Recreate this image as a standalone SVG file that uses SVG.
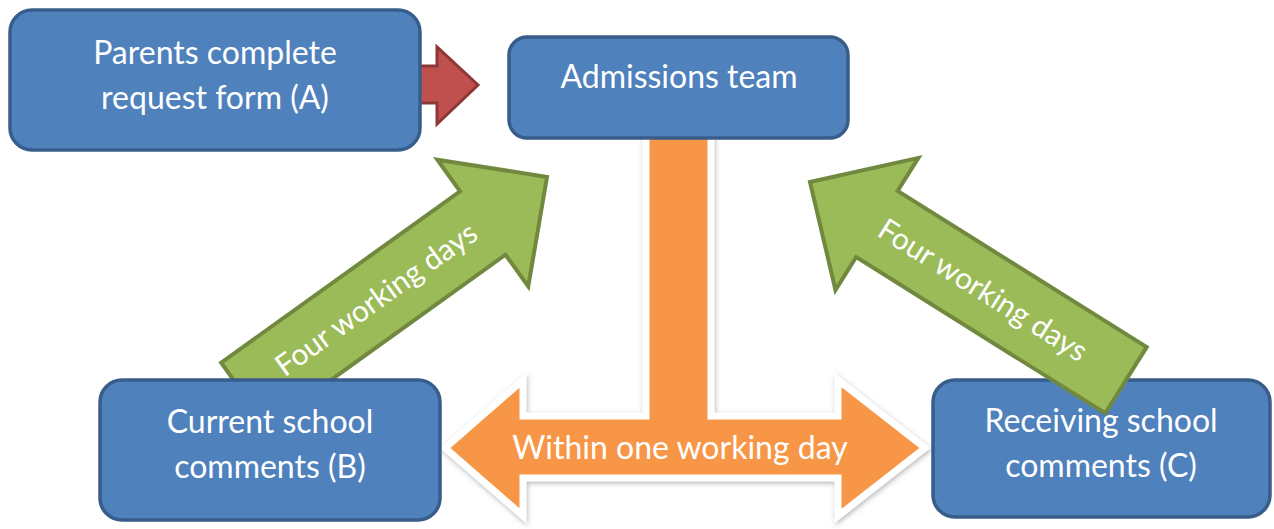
<svg xmlns="http://www.w3.org/2000/svg" width="1274" height="529" viewBox="0 0 1274 529">
<defs>
<filter id="glow" x="-10%" y="-10%" width="120%" height="120%">
<feDropShadow dx="1" dy="2" stdDeviation="2.5" flood-color="#7f7f7f" flood-opacity="0.55"/>
</filter>
</defs>
<style>
.box{fill:#4F81BD;stroke:#385D8A;stroke-width:3.5}
.txt{font-family:Lato,"Open Sans","DejaVu Sans",sans-serif;font-size:32px;fill:#ffffff;text-anchor:middle}
.gtxt{font-family:Lato,"Open Sans","DejaVu Sans",sans-serif;font-size:30px;fill:#ffffff;text-anchor:middle}
.green{fill:#9BBB59;stroke:#71893F;stroke-width:4;stroke-linejoin:miter}
.red{fill:#C0504D;stroke:#8C3836;stroke-width:3}
.orange{fill:#F79646;stroke:#ffffff;stroke-width:7;stroke-linejoin:miter}
</style>
<rect width="1274" height="529" fill="#ffffff"/>
<g id="connectors">
<g id="orange-t">
<path class="orange" filter="url(#glow)" d="M646,130 L646,416 L523,416 L523,380 L445,448 L523,516 L523,478 L838,478 L838,516 L925,448 L838,380 L838,416 L711,416 L711,130 Z"/>
<text class="txt" x="680" y="459">Within one working day</text>
</g>
<g id="arrow-b-adm" transform="translate(547,177) rotate(-35.65)">
<path class="green" d="M0,0 L-79,-78 L-79,-39 L-373,-39 L-373,39 L-79,39 L-79,78 Z"/>
<text class="gtxt" x="-210" y="10">Four working days</text>
</g>
<g id="arrow-a-adm">
<path class="red" d="M397,66 L437,66 L437,47 L478,85 L437,124 L437,103 L397,103 Z"/>
</g>
</g>
<g id="node-a">
<rect class="box" x="10" y="10" width="410" height="140" rx="22"/>
<text class="txt" x="215" y="64">Parents complete</text>
<text class="txt" x="215" y="109">request form (A)</text>
</g>
<g id="node-adm">
<rect class="box" x="509" y="37" width="339" height="101" rx="18"/>
<text class="txt" x="679" y="88">Admissions team</text>
</g>
<g id="node-b">
<rect class="box" x="100" y="380" width="340" height="140" rx="22"/>
<text class="txt" x="270" y="433">Current school</text>
<text class="txt" x="270" y="478">comments (B)</text>
</g>
<g id="node-c">
<rect class="box" x="933" y="380" width="337" height="137" rx="22"/>
<text class="txt" x="1101" y="432">Receiving school</text>
<text class="txt" x="1101" y="477">comments (C)</text>
</g>
<g id="arrow-c-adm" transform="translate(810,182) rotate(32.1)">
<path class="green" d="M0,0 L79,-78 L79,-39 L373,-39 L373,39 L79,39 L79,78 Z"/>
<text class="gtxt" x="204" y="10">Four working days</text>
</g>
</svg>
